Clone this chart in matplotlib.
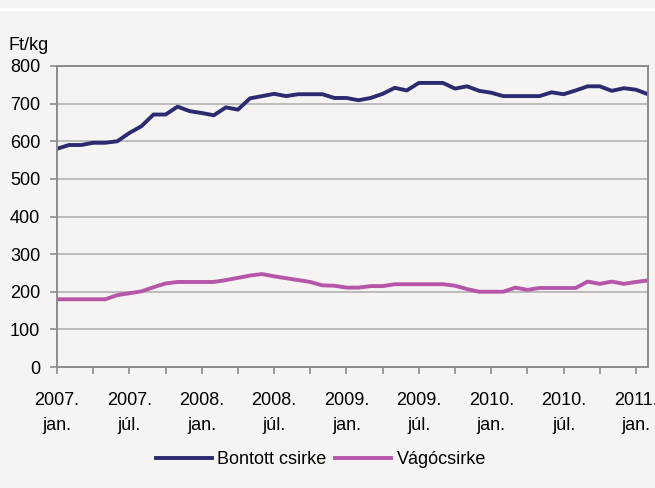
import matplotlib
matplotlib.use('Agg')
import matplotlib.pyplot as plt
import numpy as np

plt.rcParams['font.family'] = ['Liberation Sans', 'DejaVu Sans']

# monthly prices, 2007 jan .. 2011 feb (Ft/kg)
bontott = [580, 590, 590, 596, 596, 600, 622, 640, 671, 671,
           692, 680, 675, 669, 690, 684, 714, 720, 726, 720,
           725, 725, 725, 715, 715, 709, 715, 726, 742, 735,
           755, 755, 755, 740, 746, 734, 729, 720, 720, 720,
           720, 730, 725, 735, 746, 746, 734, 741, 737, 725]
vagocsirke = [180, 180, 180, 180, 180, 191, 196, 201, 212, 222,
              226, 226, 226, 226, 231, 237, 243, 247, 241, 236,
              231, 226, 217, 216, 211, 211, 215, 215, 220, 220,
              220, 220, 220, 216, 207, 200, 200, 200, 211, 205,
              210, 210, 210, 210, 227, 221, 227, 221, 226, 230]
tick_labels = ['2007.\njan.', '2007.\njúl.', '2008.\njan.', '2008.\njúl.',
               '2009.\njan.', '2009.\njúl.', '2010.\njan.', '2010.\njúl.',
               '2011.\njan.']

bg = '#f5f4f2'
navy = '#2e2a70'
pink = '#b656a9'

fig = plt.figure(figsize=(6.55, 4.88), dpi=100, facecolor=bg)
ax = fig.add_axes([57 / 655, 1 - 367 / 488, (648 - 57) / 655, (367 - 66) / 488])
ax.set_facecolor(bg)

x = np.arange(len(bontott))
ax.plot(x, bontott, color=navy, lw=2.8, label='Bontott csirke')
ax.plot(x, vagocsirke, color=pink, lw=2.8, label='Vágócsirke')

ax.set_xlim(0, len(bontott) - 1)
ax.set_ylim(0, 800)
ax.set_yticks(range(0, 801, 100))
ax.set_xticks(range(0, 49, 6))
ax.set_xticks(range(3, 49, 6), minor=True)
ax.set_xticklabels(tick_labels, linespacing=1.65)
ax.grid(axis='y', color='#b8b8b8', lw=1.3)
ax.set_axisbelow(True)

for s in ax.spines.values():
    s.set_color('#8c8c8c')
    s.set_linewidth(1.4)
ax.tick_params(axis='both', which='both', color='#8c8c8c', width=1.2, length=5,
               labelsize=13, labelcolor='black')
ax.tick_params(axis='y', pad=7)
ax.tick_params(axis='x', which='major', pad=13)

fig.text(8 / 655, 1 - 45 / 488, 'Ft/kg', fontsize=13, va='center', ha='left')
fig.add_artist(plt.Line2D([0, 1], [1 - 9 / 488, 1 - 9 / 488], color='white', lw=2,
                          transform=fig.transFigure))

fig.legend(loc='center', bbox_to_anchor=(321 / 655, 1 - 460 / 488), ncol=2,
           frameon=False, fontsize=13, handlelength=3.1, handletextpad=0.3,
           columnspacing=0.5)

fig.savefig('out.png', dpi=100, facecolor=bg)
